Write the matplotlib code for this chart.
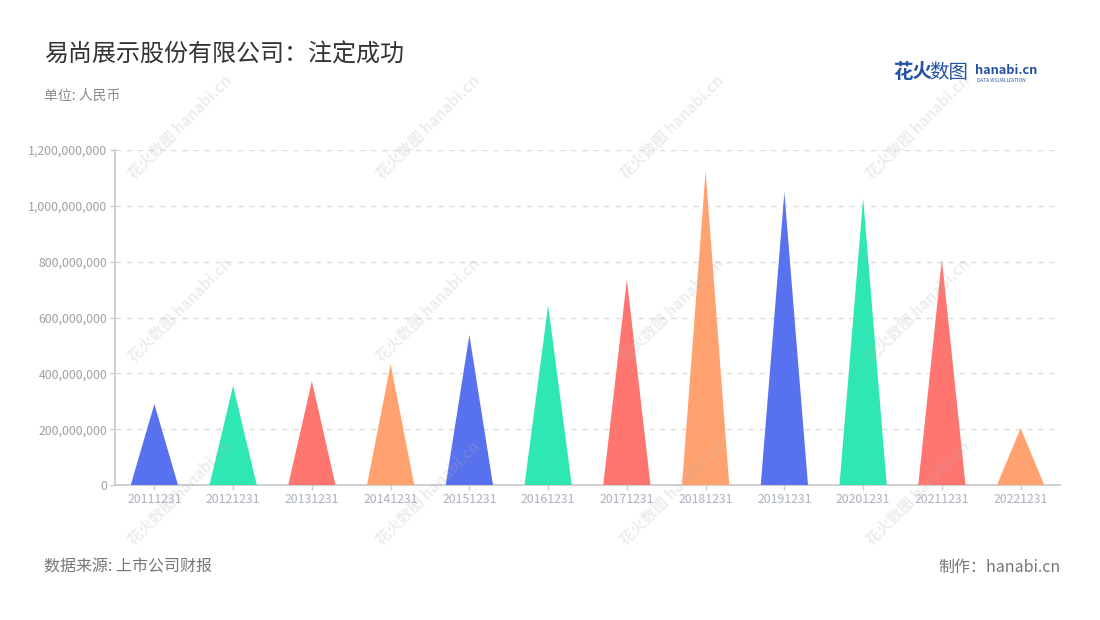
import matplotlib
matplotlib.use("Agg")
import matplotlib.pyplot as plt
from matplotlib.ticker import FuncFormatter

plt.rcParams['font.family'] = ['Noto Sans CJK SC', 'DejaVu Sans']

title = "易尚展示股份有限公司：注定成功"
subtitle = "单位: 人民币"
source = "数据来源: 上市公司财报"
maker = "制作：hanabi.cn"

categories = ["20111231", "20121231", "20131231", "20141231", "20151231", "20161231",
              "20171231", "20181231", "20191231", "20201231", "20211231", "20221231"]
values = [290e6, 355e6, 372e6, 433e6, 537e6, 643e6,
          736e6, 1125e6, 1048e6, 1027e6, 808e6, 203e6]
palette = ["#5871EF", "#2FE7B2", "#FF7671", "#FFA270"]
yticks = [0, 200e6, 400e6, 600e6, 800e6, 1000e6, 1200e6]

W, H = 1100, 620
fig = plt.figure(figsize=(W / 100, H / 100), dpi=100)
ax = fig.add_axes([115 / W, 1 - 485 / H, 945 / W, 335 / H])

n = len(categories)
half = 0.30
for i, v in enumerate(values):
    ax.fill([i - half, i, i + half], [0, v, 0], color=palette[i % 4], lw=0, zorder=3)

ax.set_xlim(-0.5, n - 0.5)
ax.set_ylim(0, 1200e6)
ax.set_yticks(yticks)
ax.yaxis.set_major_formatter(FuncFormatter(lambda v, p: f"{int(v):,}"))
ax.set_xticks(range(n))
ax.set_xticklabels(categories)

ax.grid(axis='y', color='#dddddd', linestyle=(0, (4, 4)), lw=1, zorder=0)
ax.set_axisbelow(True)
for s in ['top', 'right']:
    ax.spines[s].set_visible(False)
for s in ['left', 'bottom']:
    ax.spines[s].set_color('#cccccc')
    ax.spines[s].set_linewidth(1.3)
ax.tick_params(axis='y', colors='#cccccc', labelcolor='#a0a0a0', labelsize=8.8, length=3.6, width=1, pad=2)
ax.tick_params(axis='x', colors='#cccccc', labelcolor='#aab0bd', labelsize=8.8, length=3.6, width=1, pad=2)

# watermarks
wm_x = [180, 428, 672, 918]
wm_y = [127, 310, 493]
for wx in wm_x:
    for wy in wm_y:
        fig.text(wx / W, 1 - wy / H, "花火数图 hanabi.cn", rotation=45, color='#b0b0b0', alpha=0.22,
                 fontsize=11, fontweight='bold', ha='center', va='center', zorder=5)

fig.text(44 / W, 1 - 55 / H, title, fontsize=17.3, color='#333333', ha='left', va='center')
fig.text(44 / W, 1 - 96 / H, subtitle, fontsize=10, color='#8a8a8a', ha='left', va='center')
fig.text(44 / W, 1 - 567 / H, source, fontsize=11.5, color='#777777', ha='left', va='center')
fig.text(1061 / W, 1 - 567 / H, maker, fontsize=11.5, color='#777777', ha='right', va='center')

# logo
fig.text(893 / W, 1 - 73 / H, "花火", fontsize=14, fontweight='bold', color='#2552a5', ha='left', va='center')
fig.text(929 / W, 1 - 73 / H, "数图", fontsize=14, color='#2552a5', ha='left', va='center')
fig.text(975 / W, 1 - 70 / H, "hanabi.cn", fontsize=9.2, fontweight='bold', color='#2552a5', ha='left', va='center')
fig.text(977 / W, 1 - 80 / H, "DATA VISUALIZATION", fontsize=3.5, color='#2552a5', ha='left', va='center')

fig.savefig("out.png", dpi=100, facecolor='white')
